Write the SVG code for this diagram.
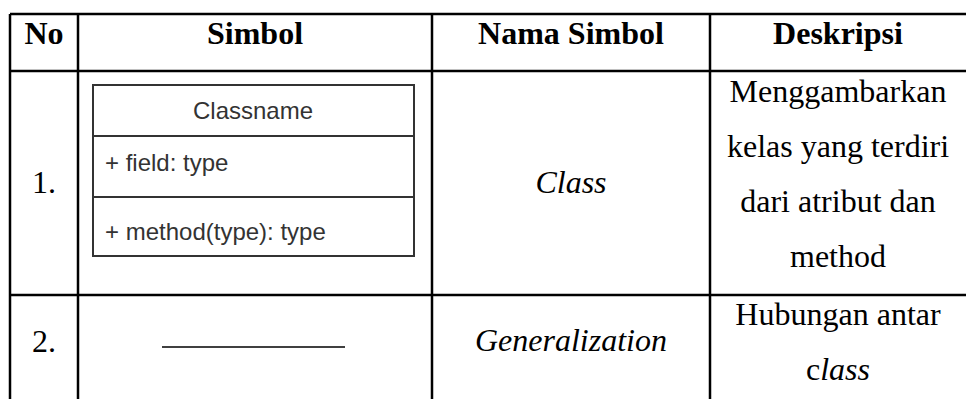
<svg xmlns="http://www.w3.org/2000/svg" width="966" height="399" viewBox="0 0 966 399">
<style>
.grid{stroke:#000;stroke-width:2.5;fill:none}
.t{font-family:"Liberation Serif","Times New Roman",serif;font-size:32px;fill:#000;text-anchor:middle}
.b{font-weight:bold}
.i{font-style:italic}
.cls{font-family:"Liberation Sans",Arial,sans-serif;font-size:24px;fill:#333}
.box{fill:#fff;stroke:#333;stroke-width:2}
</style>
<rect width="966" height="399" fill="#fff"/>
<g id="table">
<line class="grid" x1="10" y1="14" x2="966" y2="14"/>
<line class="grid" x1="10" y1="71" x2="966" y2="71"/>
<line class="grid" x1="10" y1="295" x2="966" y2="295"/>
<line class="grid" x1="10" y1="14" x2="10" y2="399"/>
<line class="grid" x1="78" y1="14" x2="78" y2="399"/>
<line class="grid" x1="432" y1="14" x2="432" y2="399"/>
<line class="grid" x1="710" y1="14" x2="710" y2="399"/>
</g>
<g id="header">
<text class="t b" x="44" y="44">No</text>
<text class="t b" x="255" y="44">Simbol</text>
<text class="t b" x="571" y="44">Nama Simbol</text>
<text class="t b" x="838" y="44">Deskripsi</text>
</g>
<g id="row1">
<text class="t" x="44" y="193">1.</text>
<g id="classbox">
<rect class="box" x="93" y="85" width="321" height="171"/>
<line class="box" x1="93" y1="136" x2="414" y2="136"/>
<line class="box" x1="93" y1="197" x2="414" y2="197"/>
<text class="cls" x="253" y="119" text-anchor="middle">Classname</text>
<text class="cls" x="105" y="171">+ field: type</text>
<text class="cls" x="105" y="240">+ method(type): type</text>
</g>
<text class="t i" x="571" y="193">Class</text>
<text class="t" x="838" y="102">Menggambarkan</text>
<text class="t" x="838" y="157">kelas yang terdiri</text>
<text class="t" x="838" y="212">dari atribut dan</text>
<text class="t" x="838" y="267">method</text>
</g>
<g id="row2">
<text class="t" x="44" y="352">2.</text>
<g id="connectors">
<line x1="162" y1="347" x2="345" y2="347" stroke="#000" stroke-width="1.5"/>
</g>
<text class="t i" x="571" y="351">Generalization</text>
<text class="t" x="838" y="325">Hubungan antar</text>
<text class="t" x="838" y="380">c<tspan class="i">lass</tspan></text>
</g>
</svg>
